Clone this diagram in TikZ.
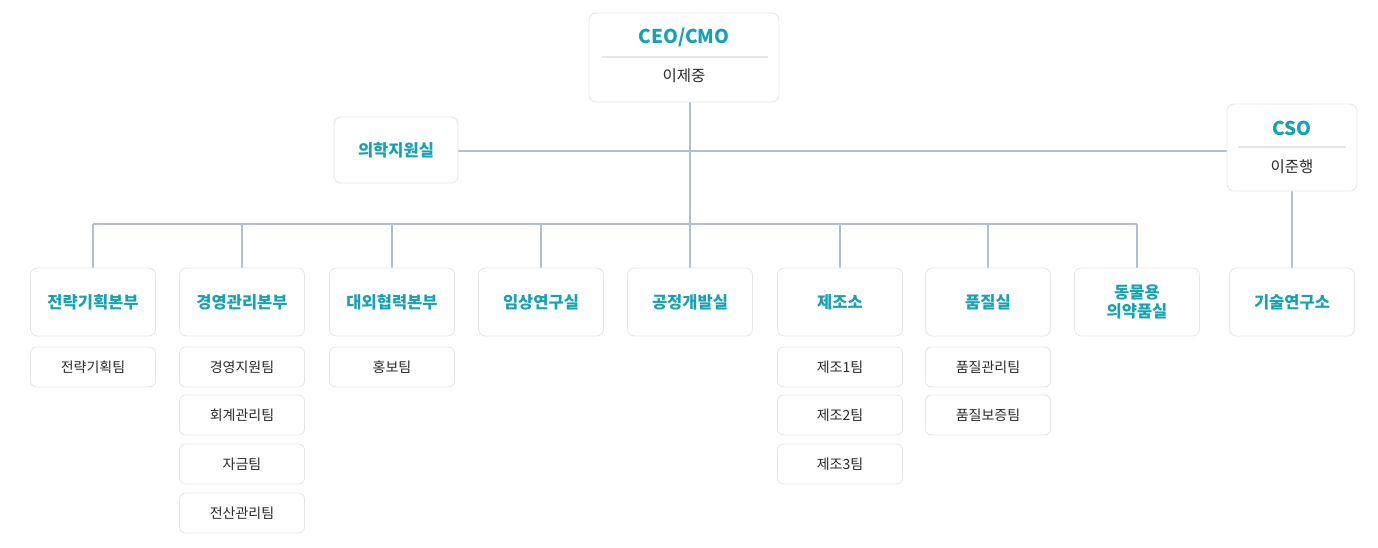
\documentclass[tikz,border=0pt]{standalone}
\usepackage{fontspec}
\setmainfont{Noto Sans CJK KR}
\definecolor{teal1}{HTML}{17A2B2}
\definecolor{ln}{HTML}{B3BFCC}
\definecolor{bd}{HTML}{E6E6E6}
\definecolor{tx}{HTML}{2A2A2A}
\begin{document}
\begin{tikzpicture}[x=1pt,y=-1pt,
  box/.style={draw=bd,line width=0.8pt,fill=white,rounded corners=7pt,minimum width=125pt,minimum height=68pt,align=center,font=\bfseries\fontsize{16.5}{19}\selectfont,text=teal1,inner sep=0pt},
  sub/.style={draw=bd,line width=0.8pt,fill=white,rounded corners=6pt,minimum width=125pt,minimum height=40pt,font=\fontsize{14}{16}\selectfont,text=tx,inner sep=0pt},
  conn/.style={draw=ln,line width=1.3pt}]
\useasboundingbox (0,0) rectangle (1378,547);
\coordinate (j) at (690,224);
\draw[conn] (93,224) -- (1137,224);
\draw[conn] (690,102) -- (j);
\draw[conn] (458,151) -- (1227,151);
\foreach \x in {93,242,392,541,840,988,1137}{\draw[conn] (\x,224) -- (\x,268);}
\draw[conn] (690,224) -- (690,268);
\draw[conn] (1292,191) -- (1292,268);
\node[box,minimum width=190pt,minimum height=89pt] (ceo) at (684,57.5) {};
\node[font=\bfseries\fontsize{19}{21}\selectfont,text=teal1] (ceot) at (684,38) {CEO/CMO};
\draw[draw=bd,line width=1.5pt] (602,57) -- (768,57);
\node[font=\fontsize{15.5}{17}\selectfont,text=tx] (ceon) at (684,76) {이제중};
\node[box,minimum width=124pt,minimum height=66pt] (med) at (396,150) {의학지원실};
\node[box,minimum width=130pt,minimum height=87pt] (cso) at (1292,147.5) {};
\node[font=\bfseries\fontsize{19}{21}\selectfont,text=teal1] (csot) at (1292,128) {CSO};
\draw[draw=bd,line width=1.5pt] (1238,147) -- (1346,147);
\node[font=\fontsize{15.5}{17}\selectfont,text=tx] (cson) at (1292,167) {이준행};
\foreach \n/\x/\t in {d1/93/전략기획본부,d2/242/경영관리본부,d3/392/대외협력본부,d4/541/임상연구실,d5/690/공정개발실,d6/840/제조소,d7/988/품질실,d8/1137/{동물용\\의약품실},d9/1292/기술연구소}
  \node[box] (\n) at (\x,302) {\t};
\foreach \n/\x/\y/\t in {s1/93/367/전략기획팀,s2/242/367/경영지원팀,s3/242/415/회계관리팀,s4/242/464/자금팀,s5/242/513/전산관리팀,s6/392/367/홍보팀,s7/840/367/제조1팀,s8/840/415/제조2팀,s9/840/464/제조3팀,s10/988/367/품질관리팀,s11/988/415/품질보증팀}
  \node[sub] (\n) at (\x,\y) {\t};
\end{tikzpicture}
\end{document}
